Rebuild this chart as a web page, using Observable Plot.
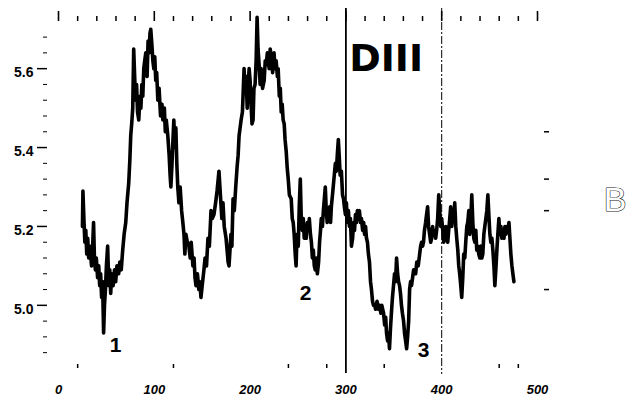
<!DOCTYPE html>
<html>
<head>
<meta charset="utf-8">
<script src="https://cdn.jsdelivr.net/npm/d3@7"></script>
<script src="https://cdn.jsdelivr.net/npm/@observablehq/plot@0.6"></script>
<style>
  html, body { margin: 0; padding: 0; background: #fff; }
  #chart svg { display: block; }
</style>
</head>
<body>
<div id="chart"></div>
<script>
// Series: position (x) and value (y)
const xs = [
  25, 25.5, 26.5, 27.5, 28.5, 29.5, 30.5, 31.5, 32.5, 33.5, 34.5, 35.5, 36.6, 37.5, 38.5, 39.5, 40.8, 42, 43, 44,
  45, 46, 47.1, 48, 49, 50, 51.3, 52.5, 53.5, 54.5, 55.5, 57, 58.5, 59.7, 61, 62.8, 64, 65.5, 67, 68.5,
  70.2, 71.5, 73.3, 74.5, 75.4, 76.4, 77.5, 78.5, 79.5, 80.5, 81.5, 82.5, 83.8, 85, 86, 87, 88, 89, 90, 91.1,
  92.5, 93.5, 94.5, 95.5, 96.3, 97.5, 98.5, 99.5, 100.5, 101.5, 102.5, 103.7, 105, 106.5, 108, 108.9, 110.5, 111.5, 112.5, 114.1,
  115.5, 116.5, 117.3, 118.5, 119.5, 120.4, 121.5, 122.5, 123.5, 124.5, 125.7, 127, 128.5, 129.8, 131, 131.9, 133, 134.5, 136.1, 137.5,
  138.5, 140.3, 141.5, 142.5, 143.5, 145, 146.5, 147.5, 148.7, 150, 151.8, 153, 154.5, 156, 157.5, 159.2, 160.5, 162.3, 164, 165.5,
  167.5, 168.5, 169.5, 170.5, 171.7, 173, 174.9, 176, 177, 178, 179, 180, 181, 182.2, 183.5, 185, 186.4, 187.5, 188.5, 190.6,
  192, 193.7, 194.8, 195.8, 197, 198, 199, 200, 201, 202, 203.1, 204, 205.2, 206.3, 207.3, 208.3, 209.4, 210.5, 211.5, 213,
  214.7, 215.8, 216.8, 218, 219.9, 221, 222, 223.5, 225, 226, 227.2, 228.5, 229.3, 230.5, 231.5, 232.5, 233.5, 234.5, 235.6, 236.5,
  237.7, 238.7, 239.8, 241, 242.9, 244, 245, 246, 247.1, 248, 249, 250.3, 251.3, 252.4, 253.4, 254.5, 255.5, 256.5, 257.5, 258.6,
  259.7, 260.8, 261.8, 263, 264, 265, 266, 267, 268, 269, 270.2, 271.5, 272.5, 273.5, 274.3, 275.5, 276.5, 277.5, 278.5, 279.5,
  280.5, 281.7, 283, 284, 284.8, 286, 287.5, 289, 290, 291, 292.1, 293.2, 294, 295.3, 296.5, 297.5, 298.4, 299.5, 300.5, 301.5,
  302.6, 303.7, 304.7, 305.8, 307, 308, 309, 310, 311, 312, 313, 314.1, 315.2, 316.2, 317.5, 318.5, 319.5, 320.5, 321.5, 322.5,
  323.5, 324.6, 325.7, 326.7, 327.8, 328.8, 330, 331, 332.5, 334, 335.1, 336.5, 337.5, 339.3, 340.5, 341.5, 342.4, 343.5, 344.5, 345.5,
  346.5, 347.5, 348.6, 349.7, 350.8, 351.8, 352.9, 354, 355, 356, 357, 358, 359, 360.2, 361.2, 362.3, 363.4, 364.4, 365.5, 366.5,
  367.5, 368.5, 369.6, 370.7, 371.7, 372.8, 374, 375.5, 377, 378, 379, 380.1, 381, 382, 383.2, 384.2, 385.3, 386.3, 387.4, 388.5,
  389.5, 390.5, 391.5, 392.6, 393.7, 394.7, 395.8, 396.9, 397.9, 399, 400, 401.1, 402.1, 403.1, 404.2, 405.2, 406.3, 407.3, 408.4, 409.4,
  410.5, 411.5, 412.6, 413.6, 414.7, 415.7, 416.8, 417.8, 418.8, 419.9, 420.9, 422, 423, 424.1, 425.1, 426.2, 427.2, 428.3, 429.3, 430.4,
  431.4, 432.5, 433.5, 434.6, 435.6, 436.6, 437.7, 438.7, 439.8, 440.8, 441.9, 442.9, 444, 445, 446.1, 447.1, 448.2, 449.2, 450.3, 451.3,
  452.4, 453.4, 454.5, 455.5, 456.5, 457.6, 458.6, 459.7, 460.7, 461.8, 462.8, 463.9, 465, 466, 467, 468, 469, 470.2, 471.2, 472.2,
  473.3, 474.3, 475.4
];
const ys = [
  5.20, 5.29, 5.22, 5.16, 5.19, 5.13, 5.17, 5.12, 5.15, 5.13, 5.10, 5.14, 5.21, 5.12, 5.09, 5.12, 5.07, 5.10, 5.05, 5.08,
  5.02, 5.06, 4.93, 5.00, 5.04, 5.10, 5.15, 5.05, 5.09, 5.03, 5.08, 5.05, 5.09, 5.06, 5.10, 5.08, 5.11, 5.09, 5.14, 5.18,
  5.21, 5.26, 5.31, 5.37, 5.43, 5.46, 5.50, 5.65, 5.58, 5.52, 5.56, 5.49, 5.47, 5.53, 5.50, 5.56, 5.53, 5.60, 5.62, 5.64,
  5.58, 5.67, 5.64, 5.69, 5.70, 5.66, 5.62, 5.60, 5.63, 5.57, 5.59, 5.52, 5.55, 5.48, 5.51, 5.47, 5.50, 5.44, 5.47, 5.43,
  5.38, 5.33, 5.30, 5.36, 5.42, 5.47, 5.40, 5.45, 5.36, 5.30, 5.26, 5.30, 5.24, 5.21, 5.18, 5.13, 5.18, 5.16, 5.15, 5.12,
  5.16, 5.10, 5.12, 5.07, 5.05, 5.08, 5.04, 5.06, 5.02, 5.05, 5.09, 5.12, 5.10, 5.17, 5.15, 5.24, 5.22, 5.23, 5.26, 5.29,
  5.34, 5.30, 5.26, 5.22, 5.26, 5.20, 5.17, 5.14, 5.11, 5.10, 5.14, 5.18, 5.15, 5.27, 5.24, 5.30, 5.35, 5.38, 5.43, 5.47,
  5.49, 5.60, 5.55, 5.58, 5.50, 5.56, 5.60, 5.57, 5.51, 5.46, 5.47, 5.55, 5.56, 5.62, 5.73, 5.65, 5.61, 5.56, 5.60, 5.55,
  5.57, 5.62, 5.61, 5.64, 5.60, 5.65, 5.63, 5.59, 5.64, 5.60, 5.62, 5.58, 5.60, 5.53, 5.55, 5.49, 5.51, 5.47, 5.46, 5.42,
  5.39, 5.35, 5.32, 5.28, 5.27, 5.22, 5.21, 5.18, 5.13, 5.10, 5.18, 5.15, 5.25, 5.32, 5.22, 5.19, 5.22, 5.17, 5.20, 5.17,
  5.21, 5.19, 5.22, 5.18, 5.16, 5.12, 5.14, 5.10, 5.09, 5.12, 5.08, 5.11, 5.16, 5.19, 5.22, 5.20, 5.24, 5.27, 5.30, 5.24,
  5.21, 5.23, 5.25, 5.21, 5.25, 5.28, 5.32, 5.36, 5.34, 5.38, 5.42, 5.37, 5.33, 5.34, 5.28, 5.27, 5.25, 5.23, 5.26, 5.21,
  5.24, 5.20, 5.22, 5.15, 5.17, 5.21, 5.19, 5.23, 5.21, 5.24, 5.22, 5.24, 5.21, 5.22, 5.19, 5.21, 5.18, 5.20, 5.17, 5.16,
  5.13, 5.11, 5.06, 5.04, 5.01, 5.00, 5.00, 4.99, 5.01, 4.99, 5.00, 4.98, 5.00, 4.98, 4.95, 4.97, 4.93, 4.91, 4.93, 4.89,
  4.94, 4.98, 5.02, 5.05, 5.08, 5.06, 5.12, 5.08, 5.06, 5.05, 5.03, 5.00, 4.98, 4.96, 4.93, 4.91, 4.89, 4.92, 4.96, 5.04,
  5.06, 5.05, 5.07, 5.09, 5.08, 5.08, 5.11, 5.10, 5.13, 5.15, 5.16, 5.15, 5.16, 5.19, 5.21, 5.23, 5.25, 5.20, 5.18, 5.16,
  5.17, 5.20, 5.18, 5.19, 5.17, 5.19, 5.22, 5.28, 5.24, 5.20, 5.22, 5.19, 5.16, 5.18, 5.20, 5.17, 5.16, 5.19, 5.22, 5.25,
  5.20, 5.23, 5.22, 5.26, 5.20, 5.17, 5.14, 5.10, 5.08, 5.05, 5.02, 5.07, 5.13, 5.12, 5.16, 5.20, 5.21, 5.24, 5.18, 5.22,
  5.28, 5.21, 5.17, 5.16, 5.19, 5.14, 5.15, 5.13, 5.12, 5.15, 5.12, 5.13, 5.18, 5.20, 5.22, 5.24, 5.28, 5.23, 5.18, 5.16,
  5.17, 5.14, 5.10, 5.05, 5.09, 5.14, 5.18, 5.22, 5.18, 5.20, 5.17, 5.19, 5.17, 5.20, 5.18, 5.20, 5.19, 5.21, 5.17, 5.13,
  5.10, 5.08, 5.06
];

// Axis ticks and labels
const xLabelTicks = [0, 100, 200, 300, 400, 500];
const xTopMajor = [0, 100, 200, 300, 400, 500];
const xTopMinor = [20, 40, 60, 80, 120, 140, 160, 180, 220, 240, 260, 280, 320, 340, 360, 380, 420, 440, 460, 480];
const xBottomTicks = [20, 120, 240, 280, 340, 460, 480];
const yMajor = [5.0, 5.2, 5.4, 5.6];
const yMinor = [4.88, 4.92, 4.96, 5.04, 5.08, 5.12, 5.16, 5.24, 5.28, 5.32, 5.36, 5.44, 5.48, 5.52, 5.56, 5.64, 5.68];
const yRightTicks = [5.04, 5.24, 5.32, 5.44];
const markerLines = [300, 400];

// Annotations (data coordinates)
const regionLabel = "DIII";
const regionLabelX = 342;
const regionLabelY = 5.626;
const pointLabels = ["1", "2", "3"];
const pointLabelX = [59.5, 257.8, 381];
const pointLabelY = [4.90, 5.03, 4.885];
const panelLetter = "B";
const panelLetterX = 581;
const panelLetterY = 5.268;

const rows = xs.map((x, i) => ({x, y: ys[i]}));
const pts = pointLabels.map((t, i) => ({t, x: pointLabelX[i], y: pointLabelY[i]}));
const blank = () => "";

const chart = Plot.plot({
  width: 632,
  height: 401,
  marginLeft: 58,
  marginRight: 95,
  marginTop: 9,
  marginBottom: 37,
  x: {domain: [0, 500]},
  y: {domain: [4.85, 5.75]},
  style: {background: "#fff", color: "#000", fontFamily: "'Liberation Sans', Arial, sans-serif"},
  marks: [
    // left axis
    Plot.axisY(yMinor, {anchor: "left", tickSize: 4, dx: -11, tickFormat: blank, label: null}),
    Plot.axisY(yMajor, {anchor: "left", tickSize: 10, dx: -11, tickFormat: blank, label: null, strokeWidth: 1.5}),
    Plot.axisY(yMajor, {anchor: "left", tickSize: 0, tickPadding: 25, dy: 4, tickFormat: d3.format(".1f"),
      fontSize: 14, fontWeight: "bold", label: null}),
    // right axis (partial ticks)
    Plot.axisY(yRightTicks, {anchor: "right", tickSize: 5, dx: 6, tickFormat: blank, label: null, strokeWidth: 1.5}),
    // top axis
    Plot.axisX(xTopMinor, {anchor: "top", tickSize: 5, dy: 11, tickFormat: blank, label: null, strokeWidth: 1.5}),
    Plot.axisX(xTopMajor, {anchor: "top", tickSize: 10, dy: 11, tickFormat: blank, label: null, strokeWidth: 1.6}),
    // bottom axis
    Plot.axisX(xBottomTicks, {anchor: "bottom", tickSize: 4, tickFormat: blank, label: null, strokeWidth: 1.5}),
    Plot.axisX(xLabelTicks, {anchor: "bottom", tickSize: 0, tickPadding: 20, tickFormat: d3.format("d"),
      fontSize: 13, fontWeight: "bold", fontStyle: "italic", label: null}),
    // marker lines
    Plot.ruleX([markerLines[0]], {stroke: "#000", strokeWidth: 1.8, insetTop: -1, insetBottom: -9}),
    Plot.ruleX([markerLines[1]], {stroke: "#000", strokeWidth: 1, strokeDasharray: "8,2,2,2", insetTop: -1, insetBottom: -10}),
    // series
    Plot.line(rows, {x: "x", y: "y", stroke: "#000", strokeWidth: 3.6, strokeLinejoin: "round"}),
    // annotations
    Plot.text([regionLabel], {x: () => regionLabelX, y: () => regionLabelY, text: d => d,
      fontSize: 38, fontWeight: "bold", fontFamily: "'DejaVu Sans', sans-serif", textAnchor: "middle", lineAnchor: "middle", fill: "#000"}),
    Plot.text(pts, {x: "x", y: "y", text: "t", fontSize: 21, fontWeight: "bold",
      fontFamily: "'Liberation Sans', Arial, sans-serif", textAnchor: "middle", lineAnchor: "middle", fill: "#000"}),
    Plot.text([panelLetter], {x: () => panelLetterX, y: () => panelLetterY, text: d => d,
      fontSize: 34, fontFamily: "'Liberation Sans', sans-serif", textAnchor: "middle", lineAnchor: "middle",
      fill: "#fff", stroke: "#222", strokeWidth: 1.2})
  ]
});

document.getElementById("chart").appendChild(chart);
</script>
</body>
</html>
